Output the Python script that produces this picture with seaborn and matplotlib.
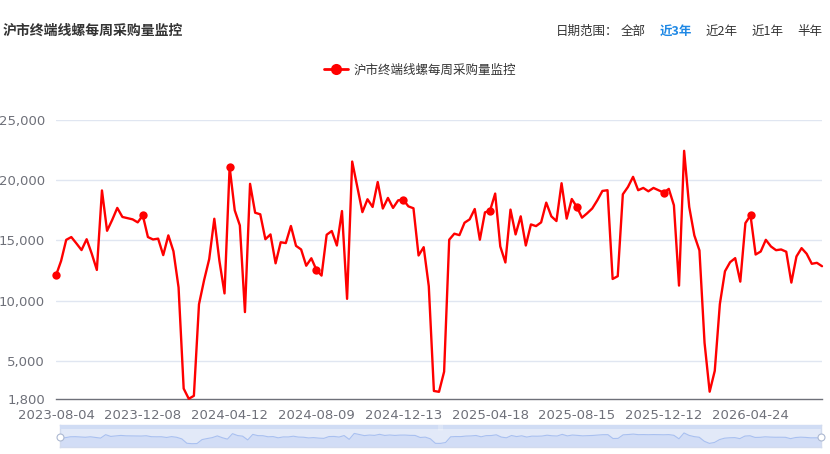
import matplotlib
matplotlib.use("Agg")
import matplotlib.pyplot as plt
from matplotlib.lines import Line2D
import seaborn as sns
import pandas as pd
import numpy as np

# ---------------- data ----------------
series_name = "沪市终端线螺每周采购量监控"
values = [
    12100, 13300, 15050, 15280, 14750, 14200, 15100, 13900, 12550, 19150,
    15800, 16700, 17700, 16950, 16850, 16750, 16500, 17080, 15280, 15080,
    15150, 13780, 15420, 14100, 11100, 2700, 1850, 2100, 9700, 11700,
    13450, 16800, 13300, 10600, 21100, 17500, 16250, 9050, 19700, 17300,
    17170, 15100, 15500, 13100, 14850, 14780, 16200, 14550, 14250, 12900,
    13520, 12550, 12080, 15470, 15780, 14580, 17440, 10150, 21550, 19450,
    17350, 18420, 17780, 19850, 17650, 18530, 17700, 18330, 18390, 17830,
    17670, 13750, 14440, 11200, 2500, 2430, 4100, 15060, 15560, 15440,
    16470, 16750, 17610, 15060, 17330, 17480, 18890, 14500, 13170, 17560,
    15500, 17000, 14580, 16330, 16190, 16500, 18140, 17000, 16610, 19750,
    16810, 18440, 17780, 16890, 17250, 17650, 18330, 19110, 19170, 11800,
    12030, 18830, 19440, 20280, 19170, 19360, 19080, 19360, 19170, 18970,
    19280, 17920, 11250, 22440, 17780, 15420, 14170, 6500, 2440, 4170,
    9720, 12440, 13190, 13530, 11580, 16440, 17080, 13830, 14080, 15050,
    14500, 14190, 14250, 14060, 11500, 13670, 14360, 13890, 13060, 13140,
    12860,
]
tick_labels = ["2023-08-04", "2023-12-08", "2024-04-12", "2024-08-09",
               "2024-12-13", "2025-04-18", "2025-08-15", "2025-12-12",
               "2026-04-24"]
tick_step = 17
y_ticks = [1800, 5000, 10000, 15000, 20000, 25000]
y_min, y_max = 1800, 25000
range_options = ["全部", "近3年", "近2年", "近1年", "半年"]

df = pd.DataFrame({"idx": np.arange(len(values)), "value": values})

# ---------------- style ----------------
sns.set_theme(style="white")
plt.rcParams['font.family'] = ['Noto Sans CJK SC', 'DejaVu Sans']
plt.rcParams['axes.unicode_minus'] = False

W, H = 830, 454
fig = plt.figure(figsize=(W / 100, H / 100), dpi=100)

def fx(px):
    return px / W

def fy(py):
    return 1 - py / H

left, right, top, bottom = 56, 822, 120, 399.4
ax = fig.add_axes([fx(left), fy(bottom), fx(right - left), fy(top) - fy(bottom)])

red = "#FF0000"
sns.lineplot(data=df, x="idx", y="value", ax=ax, color=red, linewidth=1.7,
             marker="o", markersize=6, markevery=tick_step,
             markeredgewidth=0, label=series_name, legend=False)
for ln in ax.lines:
    ln.set_clip_on(False)
    ln.set_zorder(5)

ax.set_xlim(0, len(values) - 1)
ax.set_ylim(y_min, y_max)
ax.set_yticks(y_ticks)
ax.set_yticklabels([f"{v:,}" for v in y_ticks])
xt = list(range(0, len(values), tick_step))[:len(tick_labels)]
ax.set_xticks(xt)
ax.set_xticklabels(tick_labels)
ax.set_xlabel("")
ax.set_ylabel("")

grid_c = "#E0E6F1"
for v in y_ticks[1:]:
    ax.axhline(v, color=grid_c, linewidth=1, zorder=0)

for s in ["left", "right", "top"]:
    ax.spines[s].set_visible(False)
ax.spines["bottom"].set_color("#6E7079")
ax.spines["bottom"].set_linewidth(1)
ax.spines["bottom"].set_zorder(2)

lab_c = "#6E7079"
ax.tick_params(axis="y", length=0, pad=8, labelsize=9.5, labelcolor=lab_c)
ax.tick_params(axis="x", length=5, width=1, color="#6E7079", direction="out",
               pad=2, labelsize=9.5, labelcolor=lab_c)
for lbl in ax.get_yticklabels() + ax.get_xticklabels():
    lbl.set_family(['DejaVu Sans'])

# legend
handle = Line2D([0], [0], color=red, linewidth=2, marker="o", markersize=8,
                markeredgewidth=0)
fig.legend([handle], [series_name], loc="center",
           bbox_to_anchor=(fx(420), fy(70)), frameon=False, fontsize=9,
           handlelength=1.9, handletextpad=0.5, labelcolor="#333333")

# title
fig.text(fx(3), fy(31), series_name, fontsize=10, fontweight="bold",
         color="#333333", va="center", ha="left")

# date range selector
fig.text(fx(556), fy(31), "日期范围：", fontsize=9, color="#333333",
         va="center", ha="left")
opt_x = [621, 660, 706, 752, 797]
for xo, t in zip(opt_x, range_options):
    sel = (t == "近3年")
    fig.text(fx(xo), fy(31), t, fontsize=9,
             color="#1E88E5" if sel else "#333333",
             fontweight="bold" if sel else "normal", va="center", ha="left")

# data zoom slider
sl = fig.add_axes([fx(60), fy(447), fx(821 - 60), fy(425) - fy(447)])
sl.set_facecolor("#E2E9F8")
sns.lineplot(data=df, x="idx", y="value", ax=sl, color="#A9C0F0",
             linewidth=0.8, legend=False)
sl.fill_between(df["idx"], df["value"], -10000, color="#CEDBF6", alpha=0.8,
                linewidth=0)
sl.set_xlim(0, len(values) - 1)
sl.set_ylim(-4500, 37700)
sl.axhspan(30500, 37700, color="#D0DCF4", zorder=3, linewidth=0)
sl.text(0.5, 0.91, "|||", transform=sl.transAxes, fontsize=4, color="white",
        ha="center", va="center", zorder=4, family=['DejaVu Sans'])
sl.set_xticks([])
sl.set_yticks([])
sl.set_xlabel("")
sl.set_ylabel("")
for s in sl.spines.values():
    s.set_color("#D2DBEE")
    s.set_linewidth(1)
for xe in [0, len(values) - 1]:
    sl.plot([xe], [14000], marker="o", markersize=5, color="white",
            markeredgecolor="#ACB8D1", markeredgewidth=0.8, clip_on=False,
            zorder=5)

fig.savefig("out.png", dpi=100)
